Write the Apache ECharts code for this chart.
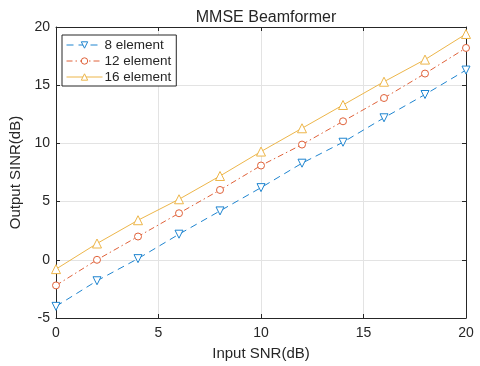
<!DOCTYPE html>
<html>
<head>
<meta charset="utf-8">
<script src="https://cdn.jsdelivr.net/npm/echarts@6/dist/echarts.min.js"></script>
<style>
  html, body { margin: 0; padding: 0; background: #fff; }
  #chart { width: 480px; height: 366px; }
</style>
</head>
<body>
<div id="chart"></div>
<script>
// Input SNR sweep (dB)
const inputSnr = [0, 2, 4, 6, 8, 10, 12, 14, 16, 18, 20];
// Output SINR (dB) for each array size
const sinr8 = [-4.0, -1.8, 0.1, 2.2, 4.2, 6.2, 8.3, 10.1, 12.2, 14.2, 16.3];
const sinr12 = [-2.2, 0.0, 2.0, 4.0, 6.0, 8.1, 9.9, 11.9, 13.9, 16.0, 18.2];
const sinr16 = [-0.8, 1.4, 3.4, 5.2, 7.2, 9.3, 11.3, 13.3, 15.3, 17.2, 19.4];
const seriesNames = ['8 element', '12 element', '16 element'];

const FONT = 'Liberation Sans, Arial, sans-serif';
const INK = '#262626';
const BLUE = '#1f85d0';
const ORANGE = '#e0623a';
const YELLOW = '#edb64a';

function pairs(ys) { return inputSnr.map((x, i) => [x, ys[i]]); }

const axisBase = {
  type: 'value',
  interval: 5,
  axisLine: { show: true, onZero: false, lineStyle: { color: INK, width: 1 } },
  axisTick: { show: true, inside: true, length: 4, lineStyle: { color: INK } },
  splitLine: { show: false },
  axisLabel: { show: false }
};

const chart = echarts.init(document.getElementById('chart'), null, { renderer: 'canvas' });
chart.setOption({
  animation: false,
  backgroundColor: '#fff',
  title: {
    text: 'MMSE Beamformer',
    left: 261, top: 5, textAlign: 'center',
    textStyle: { fontFamily: FONT, fontSize: 16, fontWeight: 'normal', color: INK }
  },
  grid: { left: 56, right: 14, top: 27, bottom: 46 },
  legend: {
    orient: 'vertical',
    left: 62, top: 35,
    backgroundColor: '#fff',
    borderColor: INK, borderWidth: 1,
    borderRadius: 0,
    padding: [3, 5, 2, 4],
    itemGap: 2,
    itemWidth: 36, itemHeight: 8,
    itemStyle: { borderWidth: 1 },
    lineStyle: { width: 1 },
    textStyle: { fontFamily: FONT, fontSize: 13.5, color: INK, padding: [0, 0, 0, -3] },
    data: seriesNames
  },
  xAxis: [
    Object.assign({}, axisBase, {
      min: 0, max: 20, position: 'bottom',
      splitLine: { show: true, lineStyle: { color: '#e3e3e3', width: 1 } },
      axisLabel: { show: true, fontFamily: FONT, fontSize: 14, color: INK, margin: 8 },
      name: 'Input SNR(dB)', nameLocation: 'middle', nameGap: 28,
      nameTextStyle: { fontFamily: FONT, fontSize: 15, color: INK }
    }),
    Object.assign({}, axisBase, { min: 0, max: 20, position: 'top' })
  ],
  yAxis: [
    Object.assign({}, axisBase, {
      min: -5, max: 20, position: 'left',
      splitLine: { show: true, lineStyle: { color: '#e3e3e3', width: 1 } },
      axisLabel: { show: true, fontFamily: FONT, fontSize: 14, color: INK, margin: 6 },
      name: 'Output SINR(dB)', nameLocation: 'middle', nameGap: 26,
      nameTextStyle: { fontFamily: FONT, fontSize: 15, color: INK }
    }),
    Object.assign({}, axisBase, { min: -5, max: 20, position: 'right' })
  ],
  series: [
    {
      name: seriesNames[0], type: 'line', data: pairs(sinr8),
      symbol: 'triangle', symbolRotate: 180, symbolSize: 8,
      lineStyle: { color: BLUE, width: 1, type: [7, 5] },
      itemStyle: { color: '#fff', borderColor: BLUE, borderWidth: 1 },
      z: 3
    },
    {
      name: seriesNames[1], type: 'line', data: pairs(sinr12),
      symbol: 'circle', symbolSize: 7,
      lineStyle: { color: ORANGE, width: 1, type: [6, 3, 1.5, 3] },
      itemStyle: { color: '#fff', borderColor: ORANGE, borderWidth: 1 },
      z: 3
    },
    {
      name: seriesNames[2], type: 'line', data: pairs(sinr16),
      symbol: 'triangle', symbolSize: 9,
      lineStyle: { color: YELLOW, width: 1, type: 'solid' },
      itemStyle: { color: '#fff', borderColor: YELLOW, borderWidth: 1 },
      z: 3
    }
  ]
});
</script>
</body>
</html>
